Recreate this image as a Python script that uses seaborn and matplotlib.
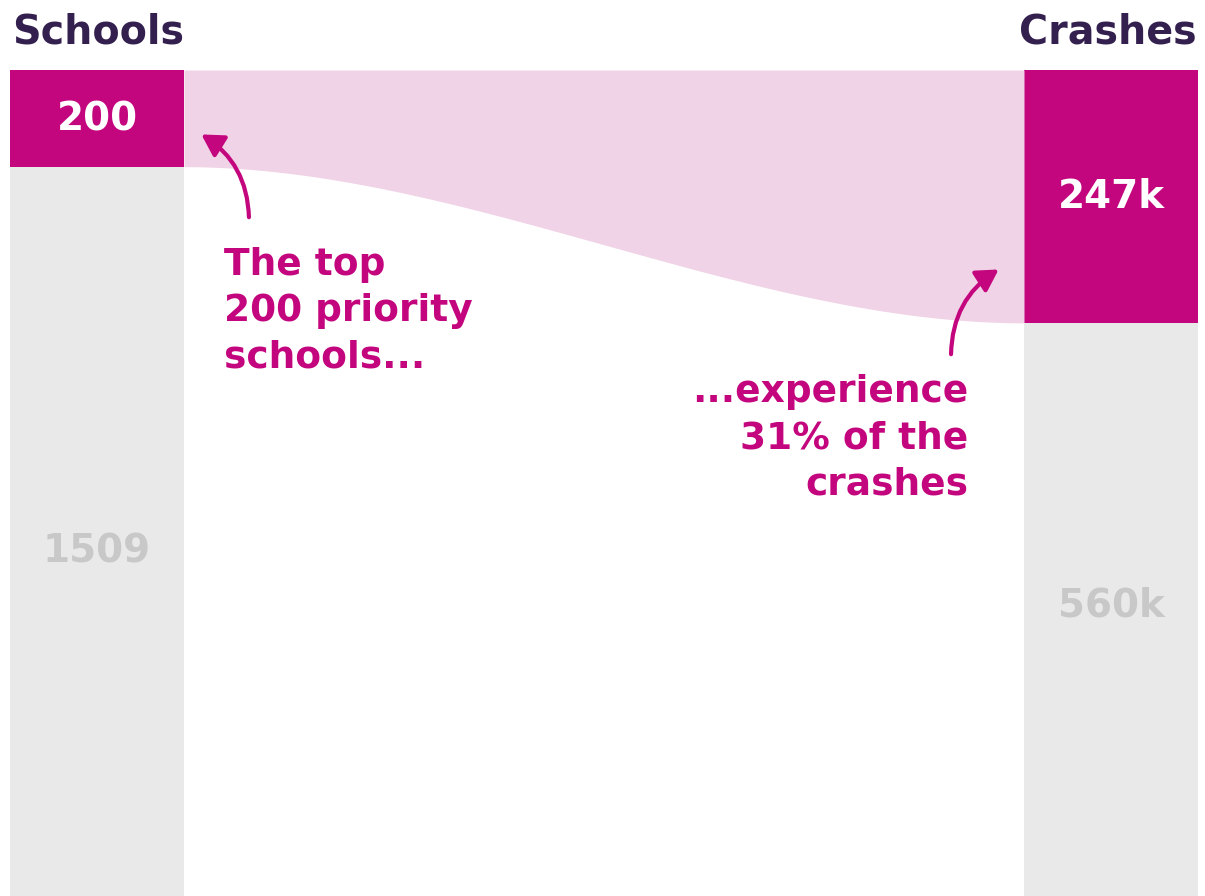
import numpy as np
import matplotlib
matplotlib.use("Agg")
import matplotlib.pyplot as plt
from matplotlib.patches import FancyArrowPatch
import seaborn as sns
import pandas as pd

# ---- data ----
columns = ["Schools", "Crashes"]
top_values = [200, 247]          # priority schools, crashes at them (k)
rest_values = [1509, 560]        # other schools, other crashes (k)
top_labels = ["200", "247k"]
rest_labels = ["1509", "560k"]
note_left = "The top\n200 priority\nschools..."
note_right = "...experience\n31% of the\ncrashes"

# ---- style ----
MAGENTA = "#C4067E"
PINK = "#F0D3E6"
GREY = "#E9E9E9"
GREY_TXT = "#C8C8C8"
TITLE = "#33204E"

sns.set_theme(style="white")
plt.rcParams["font.family"] = ["DejaVu Sans"]
plt.rcParams["font.weight"] = "bold"

W, H = 1205, 896
fig = plt.figure(figsize=(W / 100, H / 100), dpi=100)
top_px = 70
ax = fig.add_axes([0, 0, 1, (H - top_px) / H])

totals = [t + r for t, r in zip(top_values, rest_values)]
frac = [t / s for t, s in zip(top_values, totals)]

bar_w = 174 / 1014
df_full = pd.DataFrame({"col": columns, "v": [1.0, 1.0]})
df_top = pd.DataFrame({"col": columns, "v": frac})
sns.barplot(data=df_full, x="col", y="v", order=columns, color=GREY,
            saturation=1, width=bar_w, ax=ax, linewidth=0)
sns.barplot(data=df_top, x="col", y="v", order=columns, color=MAGENTA,
            saturation=1, width=bar_w, ax=ax, linewidth=0)

ax.set_xlim(-97 / 1014, 1 + (W - 1111) / 1014)
ax.set_ylim(1, 0)
ax.axis("off")

# flow band
x0, x1 = bar_w / 2, 1 - bar_w / 2
xs = np.linspace(x0, x1, 300)
t = (xs - x0) / (x1 - x0)
s = 3 * t**2 - 2 * t**3
bottom = frac[0] + (frac[1] - frac[0]) * s
ax.fill_between(xs, 0, bottom, color=PINK, linewidth=0, zorder=1)

# value labels
label_pos = [0.527, 0.494]
for i in range(2):
    ax.text(i, frac[i] / 2 + 0.001, top_labels[i], ha="center", va="center",
            color="white", fontsize=28, fontweight="bold")
    ax.text(i, frac[i] + (1 - frac[i]) * label_pos[i], rest_labels[i],
            ha="center", va="center", color=GREY_TXT, fontsize=28,
            fontweight="bold")

# column titles
fig.text(12 / W, 1 - 32 / H, columns[0], ha="left", va="center",
         color=TITLE, fontsize=28.5, fontweight="bold")
fig.text(1197 / W, 1 - 32 / H, columns[1], ha="right", va="center",
         color=TITLE, fontsize=28.5, fontweight="bold")

# annotations
fig.text(224 / W, 1 - 311 / H, note_left, ha="left", va="center",
         color=MAGENTA, fontsize=27, fontweight="bold", linespacing=1.37)
fig.text(968 / W, 1 - 438 / H, note_right, ha="right", va="center",
         color=MAGENTA, fontsize=27, fontweight="bold", linespacing=1.37,
         multialignment="right")

def px(x, y):
    return (x / W, 1 - y / H)

head = "-|>,head_length=13,head_width=7.5"
a1 = FancyArrowPatch(px(249, 220), px(199, 133), transform=fig.transFigure,
                     connectionstyle="arc3,rad=0.28", arrowstyle=head,
                     color=MAGENTA, lw=3, mutation_scale=1)
a2 = FancyArrowPatch(px(951, 357), px(1001, 268), transform=fig.transFigure,
                     connectionstyle="arc3,rad=-0.28", arrowstyle=head,
                     color=MAGENTA, lw=3, mutation_scale=1)
fig.add_artist(a1)
fig.add_artist(a2)

fig.savefig("out.png", dpi=100, facecolor="white")
